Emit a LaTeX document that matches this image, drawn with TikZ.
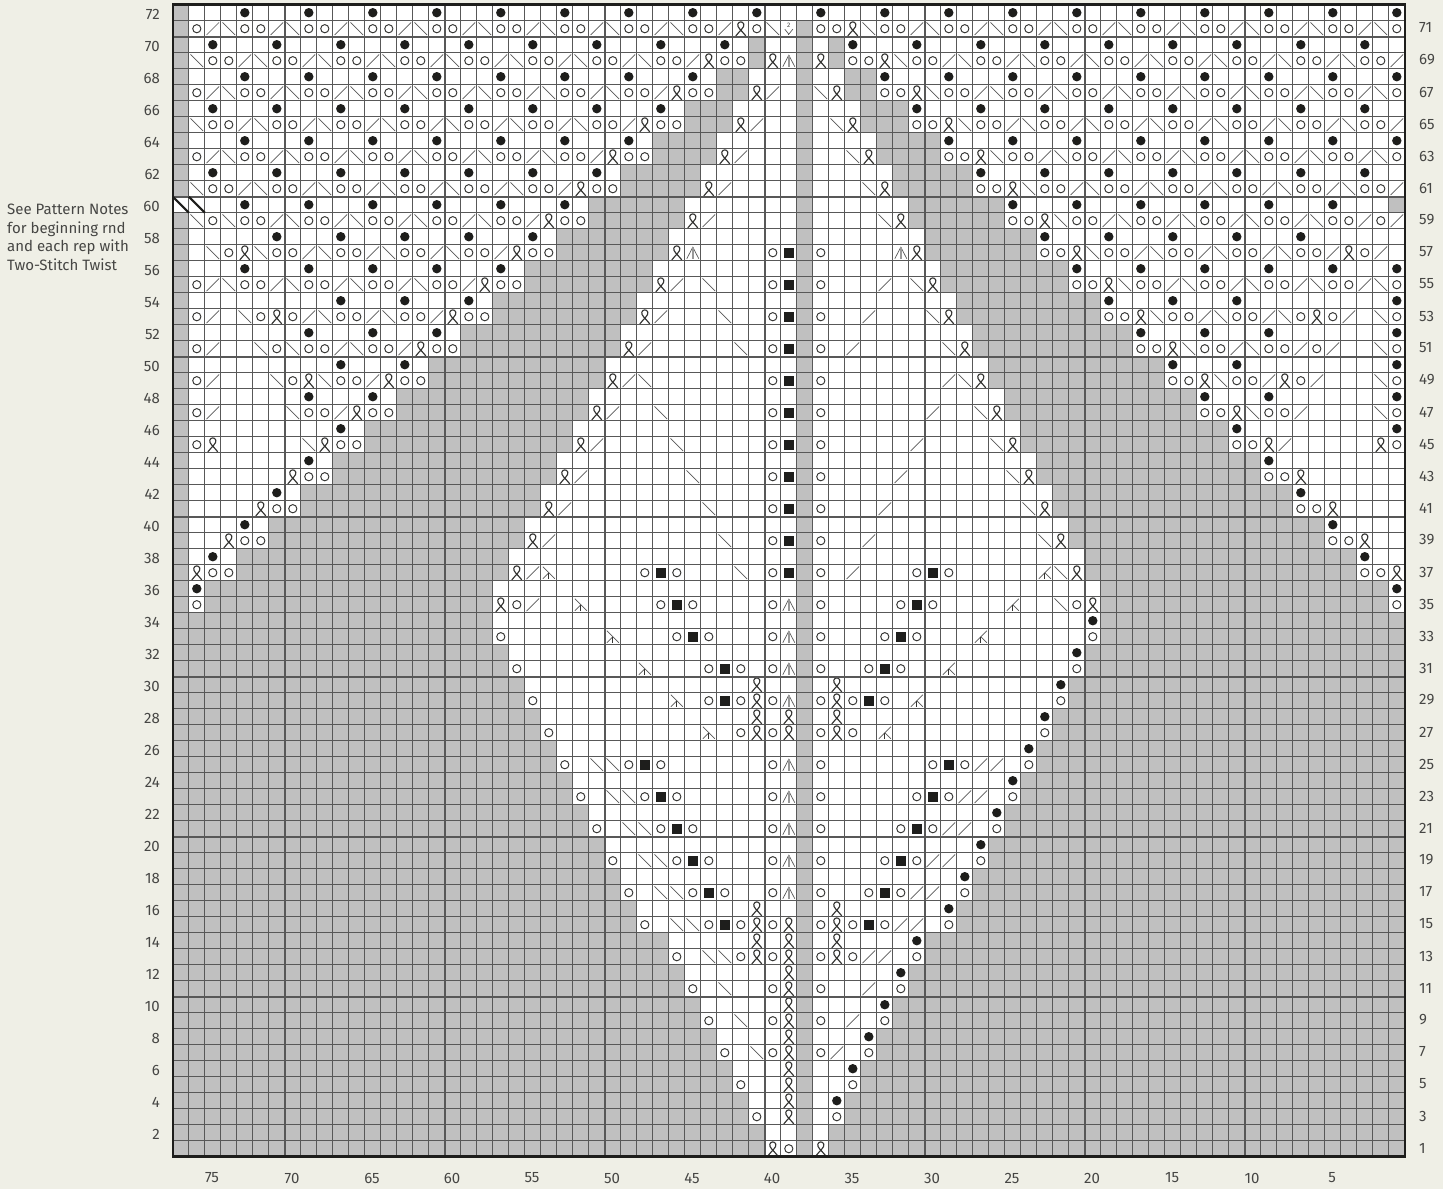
\documentclass[tikz,border=0pt]{standalone}
\usepackage{fontspec}
\setmainfont{Fira Sans}
\usepackage{xcolor}
\usepackage{tikz}
\definecolor{paper}{RGB}{239,239,230}
\definecolor{cellgray}{RGB}{192,192,192}
\definecolor{gridgray}{RGB}{88,88,88}
\definecolor{inkblack}{RGB}{30,30,28}
\definecolor{labelgray}{RGB}{70,70,68}
\newcount\colno
\newcount\rowno
\newcommand{\knitg}{\fill[cellgray] (-8,-8) rectangle (8,8);}
\newcommand{\knitd}{}
\newcommand{\knito}{\draw[stitch] (0,0) circle[radius=4.1pt];}
\newcommand{\knitb}{\fill[inkblack] (0,0) circle[radius=4.7pt];}
\newcommand{\knits}{\fill[inkblack] (-5.2,-5.2) rectangle (5.2,5.2);}
\newcommand{\knitr}{\draw[hairline] (-6.3,6.3) -- (6.3,-6.3);}
\newcommand{\knitl}{\draw[hairline] (-6.3,-6.3) -- (6.3,6.3);}
\newcommand{\knitx}{\draw[stitch, line width=1.15pt] (-5,7.2) .. controls (-1,2) and (4,-1.5) .. (3,-4.5)
  .. controls (2,-7.6) and (-2,-7.6) .. (-3,-4.5) .. controls (-4,-1.5) and (1,2) .. (5,7.2);}
\newcommand{\knita}{\draw[hairline] (-6,6) -- (0,-5.5) -- (6,6);
  \draw[midgray] (0,-5.5) -- (0,6.5);}
\newcommand{\knitk}{\draw[hairline] (-6,-6) -- (6,6); \draw[hairline] (0,0) -- (-6,6);
  \draw[stitch] (0,0) -- (0,6);}
\newcommand{\knitj}{\draw[hairline] (-6,6) -- (6,-6); \draw[hairline] (0,0) -- (6,6);
  \draw[stitch] (0,0) -- (0,6);}
\newcommand{\knitt}{\node[font=\fontsize{6.5}{7}\selectfont, text=labelgray, inner sep=0pt] (twodown) at (0,-3.2) {2};
  \draw[hairline] (-4,0.5) -- (0,5.5) -- (4,0.5); \draw[hairline] (0,5.5) -- (0,6.5);}
\newcommand{\readcell}[1]{\ifx\relax#1\else
  \advance\colno by 1
  \begin{scope}[shift={(\the\numexpr164+16*\colno\relax,\the\numexpr1164-16*\rowno\relax)}]
  \csname knit#1\endcsname
  \end{scope}
  \expandafter\readcell\fi}
\newcommand{\chartrow}[2]{\colno=0 \rowno=#1 \readcell#2\relax}
\begin{document}
\begin{tikzpicture}[
  x=1pt, y=-1pt,
  stitch/.style={draw=inkblack!90, line width=0.95pt},
  hairline/.style={draw=gridgray, line width=0.7pt},
  midgray/.style={draw=gray!80, line width=1.6pt},
  gridline/.style={draw=gridgray, line width=0.75pt},
  heavyline/.style={draw=gridgray, line width=1.7pt},
  chartframe/.style={draw=inkblack, line width=2.5pt},
  slashmark/.style={draw=inkblack, line width=2.2pt},
  rowlabel/.style={font=\fontsize{15}{16}\selectfont, text=labelgray, inner sep=0pt},
]
\useasboundingbox (0,0) rectangle (1443,1189);
\fill[paper] (0,0) rectangle (1443,1189);
\begin{scope}[shift={(0.8,0.7)}]
\fill[white] (172,4) rectangle (1404,1156);
\chartrow{72}{g ...b ...b ...b ...b ...b ...b ...b ...b ...b ...b ...b ...b ...b ...b ...b ...b ...b ...b ...b}
\chartrow{71}{g orlo orlo orlo orlo orlo orlo orlo orlo orxo ltgo oxlo orlo orlo orlo orlo orlo orlo orlo orlo}
\chartrow{70}{g .b.. .b.. .b.. .b.. .b.. .b.. .b.. .b.. .b.g ..g. gb.. .b.. .b.. .b.. .b.. .b.. .b.. .b.. .b..}
\chartrow{69}{g loor loor loor loor loor loor loor loor xoog xagx goox loor loor loor loor loor loor loor loor}
\chartrow{68}{g ...b ...b ...b ...b ...b ...b ...b ...b .gg. ..g. .ggb ...b ...b ...b ...b ...b ...b ...b ...b}
\chartrow{67}{g orlo orlo orlo orlo orlo orlo orlo orxo oggx r.gl xggo oxlo orlo orlo orlo orlo orlo orlo orlo}
\chartrow{66}{g .b.. .b.. .b.. .b.. .b.. .b.. .b.. .b.g gg.. ..g. ..gg gb.. .b.. .b.. .b.. .b.. .b.. .b.. .b..}
\chartrow{65}{g loor loor loor loor loor loor loor xoog ggxr ..g. lxgg goox loor loor loor loor loor loor loor}
\chartrow{64}{g ...b ...b ...b ...b ...b ...b ...b .ggg g... ..g. ...g gggb ...b ...b ...b ...b ...b ...b ...b}
\chartrow{63}{g orlo orlo orlo orlo orlo orlo orxo oggg gxr. ..g. .lxg gggo oxlo orlo orlo orlo orlo orlo orlo}
\chartrow{62}{g .b.. .b.. .b.. .b.. .b.. .b.. .b.g gggg .... ..g. .... gggg gb.. .b.. .b.. .b.. .b.. .b.. .b..}
\chartrow{61}{g loor loor loor loor loor loor xoog gggg xr.. ..g. ..lx gggg goox loor loor loor loor loor loor}
\chartrow{60}{d d..b ...b ...b ...b ...b ...b .ggg ggg. .... ..g. .... .ggg gggb ...b ...b ...b ...b ...b ...g}
\chartrow{59}{g lolo orlo orlo orlo orlo orxo oggg gggx r... ..g. ...l xggg gggo oxlo orlo orlo orlo orlo oror}
\chartrow{58}{g .... .b.. .b.. .b.. .b.. .b.g gggg gg.. .... ..g. .... ..gg gggg gb.. .b.. .b.. .b.. .b.. ....}
\chartrow{57}{g .lox loor loor loor loor xoog gggg ggxa .... osgo .... axgg gggg goox loor loor loor loor xor.}
\chartrow{56}{g ...b ...b ...b ...b ...b .ggg gggg g... .... ..g. .... ...g gggg gggb ...b ...b ...b ...b ...b}
\chartrow{55}{g orlo orlo orlo orlo orxo oggg gggg gxr. l... osgo ...r .lxg gggg gggo oxlo orlo orlo orlo orlo}
\chartrow{54}{g .... .... .b.. .b.. .b.g gggg gggg .... .... ..g. .... .... gggg gggg gb.. .b.. .b.. .... ...b}
\chartrow{53}{g or.l oxor loor loor xoog gggg gggg xr.. .l.. osgo ..r. ..lx gggg gggg goox loor loor loxo r.lo}
\chartrow{52}{g .... ...b ...b ...b .ggg gggg ggg. .... .... ..g. .... .... .ggg gggg gggb ...b ...b .... ...b}
\chartrow{51}{g or.. lolo orlo orxo oggg gggg gggx r... ..l. osgo .r.. ...l xggg gggg gggo oxlo orlo oror ..lo}
\chartrow{50}{g .... .... .b.. .b.g gggg gggg gg.. .... .... ..g. .... .... ..gg gggg gggg gb.. .b.. .... ...b}
\chartrow{49}{g or.. .lox loor xoog gggg gggg ggxr l... .... osgo .... ...r lxgg gggg gggg goox loor xor. ..lo}
\chartrow{48}{g .... ...b ...b .ggg gggg gggg g... .... .... ..g. .... .... ...g gggg gggg gggb ...b .... ...b}
\chartrow{47}{g or.. ..lo orxo oggg gggg gggg gxr. .l.. .... osgo .... ..r. .lxg gggg gggg gggo oxlo or.. ..lo}
\chartrow{46}{g .... .... .b.g gggg gggg gggg .... .... .... ..g. .... .... .... gggg gggg gggg gb.. .... ...b}
\chartrow{45}{g ox.. ...l xoog gggg gggg gggg xr.. ..l. .... osgo .... .r.. ..lx gggg gggg gggg goox r... ..xo}
\chartrow{44}{g .... ...b .ggg gggg gggg ggg. .... .... .... ..g. .... .... .... .ggg gggg gggg gggb .... ....}
\chartrow{43}{g .... ..xo oggg gggg gggg gggx r... ...l .... osgo .... r... ...l xggg gggg gggg gggo ox.. ....}
\chartrow{42}{g .... .b.g gggg gggg gggg gg.. .... .... .... ..g. .... .... .... ..gg gggg gggg gggg gb.. ....}
\chartrow{41}{g .... xoog gggg gggg gggg ggxr .... .... l... osgo ...r .... .... lxgg gggg gggg gggg goox ....}
\chartrow{40}{g ...b .ggg gggg gggg gggg g... .... .... .... ..g. .... .... .... ...g gggg gggg gggg gggb ....}
\chartrow{39}{g ..xo oggg gggg gggg gggg gxr. .... .... .l.. osgo ..r. .... .... .lxg gggg gggg gggg gggo ox..}
\chartrow{38}{g .b.g gggg gggg gggg gggg .... .... .... .... ..g. .... .... .... .... gggg gggg gggg gggg gb..}
\chartrow{37}{g xoog gggg gggg gggg gggg xrk. .... oso. ..l. osgo .r.. .oso .... .jlx gggg gggg gggg gggg goox}
\chartrow{36}{g bggg gggg gggg gggg ggg. .... .... .... .... ..g. .... .... .... .... .ggg gggg gggg gggg gggb}
\chartrow{35}{g oggg gggg gggg gggg gggx or.. k... .oso .... oago .... oso. ...j ..lo xggg gggg gggg gggg gggo}
\chartrow{34}{g gggg gggg gggg gggg ggg. .... .... .... .... ..g. .... .... .... .... bggg gggg gggg gggg gggg}
\chartrow{33}{g gggg gggg gggg gggg gggo .... ..k. ..os o... oago ...o so.. .j.. .... oggg gggg gggg gggg gggg}
\chartrow{32}{g gggg gggg gggg gggg gggg .... .... .... .... ..g. .... .... .... ...b gggg gggg gggg gggg gggg}
\chartrow{31}{g gggg gggg gggg gggg gggg o... .... k... oso. oago ..os o..j .... ...o gggg gggg gggg gggg gggg}
\chartrow{30}{g gggg gggg gggg gggg gggg g... .... .... ...x ..g. x... .... .... ..bg gggg gggg gggg gggg gggg}
\chartrow{29}{g gggg gggg gggg gggg gggg go.. .... ..k. osox oago xoso .j.. .... ..og gggg gggg gggg gggg gggg}
\chartrow{28}{g gggg gggg gggg gggg gggg gg.. .... .... ...x .xg. x... .... .... .bgg gggg gggg gggg gggg gggg}
\chartrow{27}{g gggg gggg gggg gggg gggg ggo. .... .... k.ox oxgo xo.j .... .... .ogg gggg gggg gggg gggg gggg}
\chartrow{26}{g gggg gggg gggg gggg gggg ggg. .... .... .... ..g. .... .... .... bggg gggg gggg gggg gggg gggg}
\chartrow{25}{g gggg gggg gggg gggg gggg gggo .llo so.. .... oago .... ..os orr. oggg gggg gggg gggg gggg gggg}
\chartrow{24}{g gggg gggg gggg gggg gggg gggg .... .... .... ..g. .... .... ...b gggg gggg gggg gggg gggg gggg}
\chartrow{23}{g gggg gggg gggg gggg gggg gggg o.ll oso. .... oago .... .oso rr.o gggg gggg gggg gggg gggg gggg}
\chartrow{22}{g gggg gggg gggg gggg gggg gggg g... .... .... ..g. .... .... ..bg gggg gggg gggg gggg gggg gggg}
\chartrow{21}{g gggg gggg gggg gggg gggg gggg go.l loso .... oago .... osor r.og gggg gggg gggg gggg gggg gggg}
\chartrow{20}{g gggg gggg gggg gggg gggg gggg gg.. .... .... ..g. .... .... .bgg gggg gggg gggg gggg gggg gggg}
\chartrow{19}{g gggg gggg gggg gggg gggg gggg ggo. llos o... oago ...o sorr .ogg gggg gggg gggg gggg gggg gggg}
\chartrow{18}{g gggg gggg gggg gggg gggg gggg ggg. .... .... ..g. .... .... bggg gggg gggg gggg gggg gggg gggg}
\chartrow{17}{g gggg gggg gggg gggg gggg gggg gggo .llo so.. oago ..os orr. oggg gggg gggg gggg gggg gggg gggg}
\chartrow{16}{g gggg gggg gggg gggg gggg gggg gggg .... ...x ..g. x... ...b gggg gggg gggg gggg gggg gggg gggg}
\chartrow{15}{g gggg gggg gggg gggg gggg gggg gggg o.ll osox oxgo xoso rr.o gggg gggg gggg gggg gggg gggg gggg}
\chartrow{14}{g gggg gggg gggg gggg gggg gggg gggg gg.. ...x .xg. x... .bgg gggg gggg gggg gggg gggg gggg gggg}
\chartrow{13}{g gggg gggg gggg gggg gggg gggg gggg ggo. llox oxgo xorr .ogg gggg gggg gggg gggg gggg gggg gggg}
\chartrow{12}{g gggg gggg gggg gggg gggg gggg gggg ggg. .... .xg. .... bggg gggg gggg gggg gggg gggg gggg gggg}
\chartrow{11}{g gggg gggg gggg gggg gggg gggg gggg gggo .l.. oxgo ..r. oggg gggg gggg gggg gggg gggg gggg gggg}
\chartrow{10}{g gggg gggg gggg gggg gggg gggg gggg gggg .... .xg. ...b gggg gggg gggg gggg gggg gggg gggg gggg}
\chartrow{9}{g gggg gggg gggg gggg gggg gggg gggg gggg o.l. oxgo .r.o gggg gggg gggg gggg gggg gggg gggg gggg}
\chartrow{8}{g gggg gggg gggg gggg gggg gggg gggg gggg g... .xg. ..bg gggg gggg gggg gggg gggg gggg gggg gggg}
\chartrow{7}{g gggg gggg gggg gggg gggg gggg gggg gggg go.l oxgo r.og gggg gggg gggg gggg gggg gggg gggg gggg}
\chartrow{6}{g gggg gggg gggg gggg gggg gggg gggg gggg gg.. .xg. .bgg gggg gggg gggg gggg gggg gggg gggg gggg}
\chartrow{5}{g gggg gggg gggg gggg gggg gggg gggg gggg ggo. .xg. .ogg gggg gggg gggg gggg gggg gggg gggg gggg}
\chartrow{4}{g gggg gggg gggg gggg gggg gggg gggg gggg ggg. .xg. bggg gggg gggg gggg gggg gggg gggg gggg gggg}
\chartrow{3}{g gggg gggg gggg gggg gggg gggg gggg gggg gggo .xg. oggg gggg gggg gggg gggg gggg gggg gggg gggg}
\chartrow{2}{g gggg gggg gggg gggg gggg gggg gggg gggg gggg ..g. gggg gggg gggg gggg gggg gggg gggg gggg gggg}
\chartrow{1}{g gggg gggg gggg gggg gggg gggg gggg gggg gggg xogx gggg gggg gggg gggg gggg gggg gggg gggg gggg}
\foreach \n in {1,...,76}
  \draw[gridline] ({172+16*\n},4) -- ({172+16*\n},1156);
\foreach \n in {1,...,71}
  \draw[gridline] (172,{4+16*\n}) -- (1404,{4+16*\n});
\foreach \n in {7,17,...,67}
  \draw[heavyline] ({172+16*\n},4) -- ({172+16*\n},1156);
\foreach \n in {1,...,7}
  \draw[heavyline] (172,{1156-160*\n}) -- (1404,{1156-160*\n});
\draw[slashmark] (172,196) -- (188,212);
\draw[slashmark] (188,196) -- (204,212);
\draw[chartframe] (172,4) rectangle (1404,1156);
\end{scope}
\foreach \r in {2,4,...,72}
  \node[rowlabel, anchor=east] (left\r) at (160,{1166-16*\r}) {\r};
\foreach \r in {1,3,...,71}
  \node[rowlabel, anchor=west] (right\r) at (1419,{1164-16*\r}) {\r};
\foreach \k in {5,10,...,75}
  \node[rowlabel] (bottom\k) at ({1412-16*\k},1178) {\k};
\node[font=\fontsize{15}{18.6}\selectfont, text=labelgray, align=left, anchor=north west, inner sep=0pt] (patternnote) at (7,204)
  {See Pattern Notes\\for beginning rnd\\and each rep with\\Two-Stitch Twist};
\end{tikzpicture}
\end{document}
